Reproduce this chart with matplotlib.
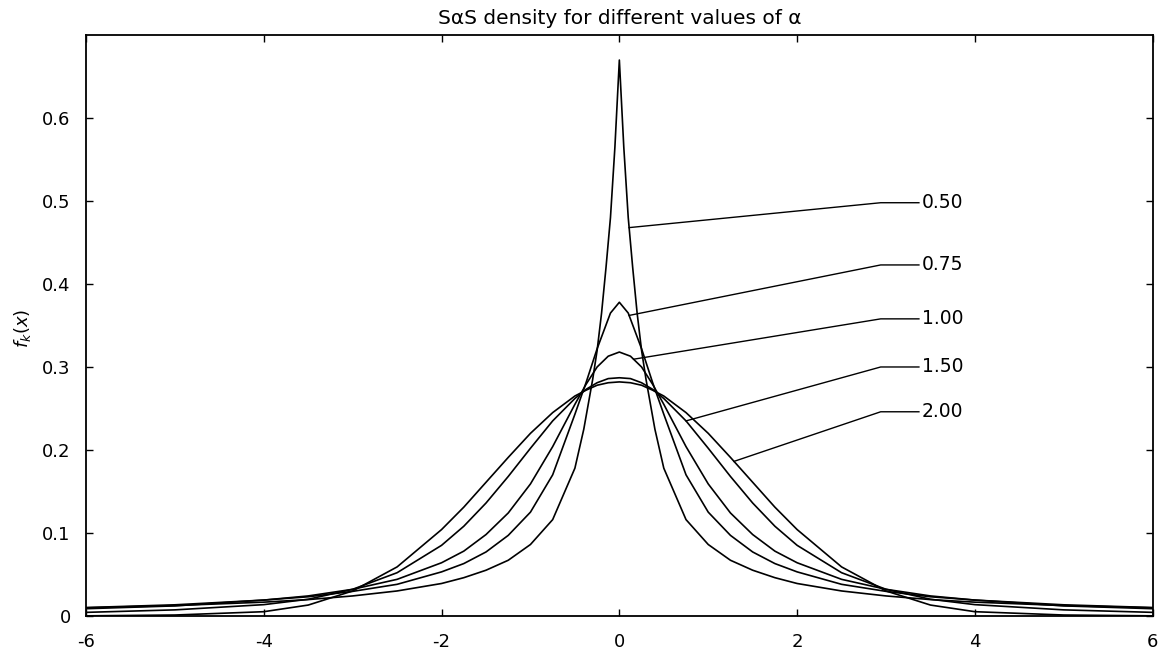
import matplotlib
matplotlib.use('Agg')
import matplotlib.pyplot as plt
import numpy as np

plt.rcParams['font.family'] = ['DejaVu Sans']
plt.rcParams['axes.unicode_minus'] = False
plt.rcParams['mathtext.fontset'] = 'dejavusans'

# values
x_common = [-6, -5, -4, -3.5, -3, -2.5, -2, -1.75, -1.5, -1.25, -1, -0.75, -0.5, -0.375, -0.25, -0.125,
            0, 0.125, 0.25, 0.375, 0.5, 0.75, 1, 1.25, 1.5, 1.75, 2, 2.5, 3, 3.5, 4, 5, 6]

f_a200 = [0.000, 0.001, 0.005, 0.013, 0.030, 0.059, 0.104, 0.131, 0.161, 0.191, 0.220, 0.245, 0.265, 0.272, 0.278, 0.281,
          0.282, 0.281, 0.278, 0.272, 0.265, 0.245, 0.220, 0.191, 0.161, 0.131, 0.104, 0.059, 0.030, 0.013, 0.005, 0.001, 0.000]

f_a150 = [0.0042, 0.0072, 0.0135, 0.020, 0.032, 0.052, 0.085, 0.108, 0.136, 0.168, 0.202, 0.235, 0.262, 0.273, 0.281, 0.286,
          0.287, 0.286, 0.281, 0.273, 0.262, 0.235, 0.202, 0.168, 0.136, 0.108, 0.085, 0.052, 0.032, 0.020, 0.0135, 0.0072, 0.0042]

f_a100 = [0.0086, 0.012, 0.019, 0.024, 0.032, 0.044, 0.064, 0.078, 0.098, 0.124, 0.159, 0.204, 0.255, 0.279, 0.300, 0.313,
          0.318, 0.313, 0.300, 0.279, 0.255, 0.204, 0.159, 0.124, 0.098, 0.078, 0.064, 0.044, 0.032, 0.024, 0.019, 0.012, 0.0086]

x_a075 = [-6, -5, -4, -3.5, -3, -2.5, -2, -1.75, -1.5, -1.25, -1, -0.75, -0.5, -0.375, -0.25, -0.1,
          0, 0.1, 0.25, 0.375, 0.5, 0.75, 1, 1.25, 1.5, 1.75, 2, 2.5, 3, 3.5, 4, 5, 6]
f_a075 = [0.010, 0.0133, 0.019, 0.023, 0.0295, 0.038, 0.053, 0.063, 0.077, 0.097, 0.125, 0.170, 0.243, 0.281, 0.322, 0.365,
          0.378, 0.365, 0.322, 0.281, 0.243, 0.170, 0.125, 0.097, 0.077, 0.063, 0.053, 0.038, 0.0295, 0.023, 0.019, 0.0133, 0.010]

x_a050 = [-6, -5, -4, -3.5, -3, -2.5, -2, -1.75, -1.5, -1.25, -1, -0.75, -0.5, -0.4, -0.3, -0.25, -0.2, -0.15, -0.1, -0.05,
          0, 0.05, 0.1, 0.15, 0.2, 0.25, 0.3, 0.4, 0.5, 0.75, 1, 1.25, 1.5, 1.75, 2, 2.5, 3, 3.5, 4, 5, 6]
f_a050 = [0.0097, 0.0124, 0.0165, 0.0196, 0.024, 0.030, 0.039, 0.046, 0.055, 0.067, 0.086, 0.116, 0.178, 0.225, 0.285,
          0.320, 0.365, 0.420, 0.480, 0.565,
          0.670, 0.565, 0.480, 0.420, 0.365, 0.320, 0.285, 0.225, 0.178, 0.116, 0.086, 0.067, 0.055, 0.046, 0.039,
          0.030, 0.024, 0.0196, 0.0165, 0.0124, 0.0097]

alpha_labels = ['0.50', '0.75', '1.00', '1.50', '2.00']
series = [(x_a050, f_a050), (x_a075, f_a075), (x_common, f_a100), (x_common, f_a150), (x_common, f_a200)]

# where each leader line touches its curve, and the label height
anchor_x = [0.11, 0.11, 0.16, 0.75, 1.29]
label_y = [0.498, 0.423, 0.358, 0.300, 0.246]

fig = plt.figure(figsize=(11.62, 6.51), dpi=100)
ax = fig.add_axes([0.074, 0.054, 0.918, 0.892])

for xs, ys in series:
    ax.plot(xs, ys, color='black', lw=1.2)

kink_x, end_x = 2.94, 3.37
for lab, xa, yl, (xs, ys) in zip(alpha_labels, anchor_x, label_y, series):
    ya = np.interp(xa, xs, ys)
    ax.plot([xa, kink_x, end_x], [ya, yl, yl], color='black', lw=1.0)
    ax.text(end_x + 0.03, yl, lab, ha='left', va='center', fontsize=13.5)

ax.set_xlim(-6, 6)
ax.set_ylim(0, 0.7)
ax.set_xticks(np.arange(-6, 7, 2))
ax.set_xticklabels([str(v) for v in range(-6, 7, 2)])
ax.set_yticks([0, 0.1, 0.2, 0.3, 0.4, 0.5, 0.6])
ax.set_yticklabels(['0', '0.1', '0.2', '0.3', '0.4', '0.5', '0.6'])
ax.tick_params(axis='x', pad=12)
ax.tick_params(axis='y', pad=11)
ax.tick_params(direction='in', top=True, right=True, length=5, width=1, labelsize=13)
for sp in ax.spines.values():
    sp.set_linewidth(1.3)

ax.set_title('S\u03b1S density for different values of \u03b1', fontsize=14.5, pad=8)
fig.text(0.019, 0.496, r'$f_k(x)$', rotation=90, ha='center', va='center', fontsize=13)

fig.savefig('out.png', dpi=100)
